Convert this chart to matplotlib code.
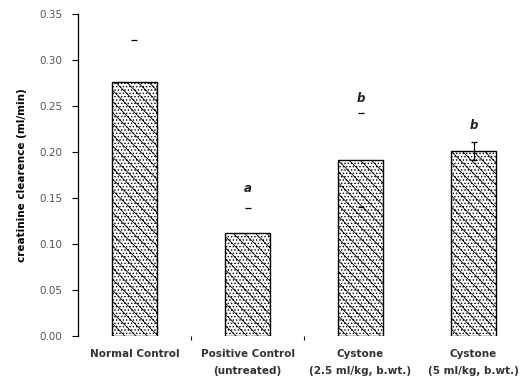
import matplotlib.pyplot as plt

groups = ["Normal Control", "Positive Control\n(untreated)",
          "Cystone\n(2.5 ml/kg, b.wt.)", "Cystone\n(5 ml/kg, b.wt.)"]
clearance = [0.276, 0.112, 0.191, 0.201]
sem = [0.046, 0.027, 0.051, 0.010]
letters = ["", "a", "b", "b"]
letter_y = [None, 0.160, 0.258, 0.229]

plt.rcParams['hatch.linewidth'] = 0.6
plt.rcParams['hatch.color'] = '#333333'

fig = plt.figure(figsize=(5.21, 3.81), dpi=100)
ax = fig.add_axes([0.1497, 0.118, 0.8503, 0.845])

x = list(range(len(groups)))
ax.bar(x, clearance, width=0.4, color='white', edgecolor='black',
       linewidth=1.0, hatch='.....\\\\\\', zorder=2)

# error bar lines are not shown in the original, except on the last bar
ax.errorbar(x[:2], clearance[:2], yerr=sem[:2], fmt='none', ecolor='black',
            elinewidth=0, capsize=2.5, capthick=0.9, zorder=1)
ax.errorbar(x[2:3], clearance[2:3], yerr=sem[2:3], fmt='none', ecolor='black',
            elinewidth=0, capsize=2.5, capthick=0.9, zorder=3)
ax.errorbar(x[3:], clearance[3:], yerr=sem[3:], fmt='none', ecolor='black',
            elinewidth=0.9, capsize=2.5, capthick=0.9, zorder=3)

for i, (lab, ly) in enumerate(zip(letters, letter_y)):
    if lab:
        ax.text(i, ly, lab, ha='center', va='center', fontsize=8.5,
                fontweight='bold', style='italic', color='#222')

ax.set_xlim(-0.5, 3.42)
ax.set_ylim(0, 0.35)
ax.set_yticks([0.0, 0.05, 0.10, 0.15, 0.20, 0.25, 0.30, 0.35])
ax.set_yticklabels([f"{v:.2f}" for v in ax.get_yticks()], fontsize=7.5,
                   color='#555')
ax.tick_params(axis='y', length=4, width=0.8, pad=7)

ax.set_xticks(x)
ax.set_xticklabels(groups, fontsize=7.5, fontweight='bold', color='#333',
                   linespacing=1.9)
ax.tick_params(axis='x', length=0, pad=9)
ax.set_xticks([0.5, 1.5], minor=True)
ax.tick_params(axis='x', which='minor', length=3, width=0.8)

ax.set_ylabel("creatinine clearence (ml/min)", fontsize=7.5,
              fontweight='bold', labelpad=9)

for side in ['top', 'right', 'bottom']:
    ax.spines[side].set_visible(False)
ax.spines['left'].set_linewidth(0.9)

plt.savefig("out.png", dpi=100)
